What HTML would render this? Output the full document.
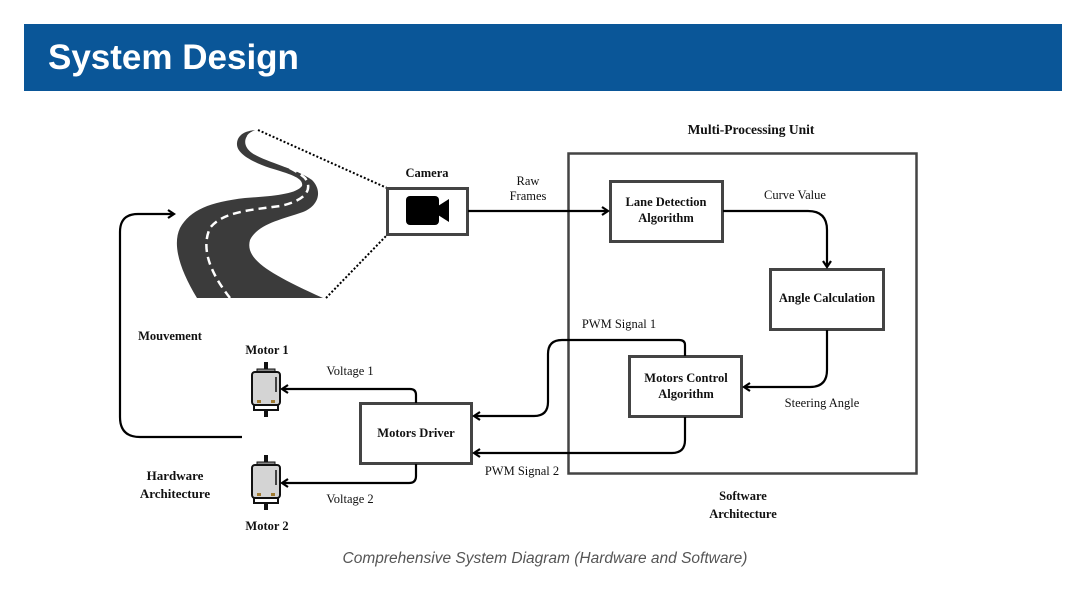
<!DOCTYPE html>
<html><head><meta charset="utf-8"><style>
body{margin:0;background:#fff;width:1091px;height:593px;overflow:hidden}
svg{display:block}
.t{font-family:"Liberation Serif",serif;font-size:12.5px;fill:#111}
.b{font-weight:bold}
</style></head><body>
<svg width="1091" height="593" viewBox="0 0 1091 593" xmlns="http://www.w3.org/2000/svg">
<defs>
<marker id="ah" markerWidth="10" markerHeight="10" refX="8" refY="5" orient="auto" markerUnits="userSpaceOnUse">
<path d="M2,1 L8,5 L2,9" fill="none" stroke="#000" stroke-width="2.2"/>
</marker>
</defs>
<rect x="24" y="24" width="1038" height="67" fill="#0a5698"/>
<text x="48" y="69" font-family="Liberation Sans,sans-serif" font-weight="bold" font-size="35" fill="#fff">System Design</text>

<!-- road -->
<path d="M255,130 C243,135 242,146 252,153 C265,162 295,168 312,180 C322,190 320,205 303,212 C280,220 258,224 250,240 C245,258 265,272 323,298 L197,298 C180,270 172,245 180,228 C190,210 210,202 245,198 C275,196 296,194 302,186 C304,178 290,174 270,168 C250,161 236,153 237,143 C238,134 246,131 255,130 Z" fill="#3b3b3b"/>
<path d="M230,298 C212,275 200,250 210,228 C222,212 250,210 280,206 C300,202 315,192 305,178 C292,166 268,160 252,150 C244,143 246,136 252,133" fill="none" stroke="#fff" stroke-width="2.5" stroke-dasharray="8,5"/>
<line x1="258" y1="130" x2="387" y2="188" stroke="#000" stroke-width="2" stroke-dasharray="2,2"/>
<line x1="326" y1="298" x2="387" y2="235" stroke="#000" stroke-width="2" stroke-dasharray="2,2"/>

<!-- camera -->
<rect x="387.5" y="188.5" width="80" height="46" fill="#fff" stroke="#444" stroke-width="3"/>
<rect x="406" y="196" width="33" height="29" rx="4" fill="#000"/>
<path d="M438,206 L449,199 L449,222 L438,215 Z" fill="#000"/>
<text class="t b" x="427" y="177" text-anchor="middle">Camera</text>

<!-- MPU -->
<rect x="568.5" y="153.5" width="348" height="320" fill="none" stroke="#444" stroke-width="2.5"/>
<text class="t b" x="751" y="134" text-anchor="middle" style="font-size:13.5px">Multi-Processing Unit</text>
<text class="t b" x="743" y="500" text-anchor="middle">Software</text>
<text class="t b" x="743" y="518" text-anchor="middle">Architecture</text>

<rect x="610.5" y="181.5" width="112" height="60" fill="#fff" stroke="#444" stroke-width="3"/>
<text class="t b" x="666" y="206" text-anchor="middle">Lane Detection</text>
<text class="t b" x="666" y="222" text-anchor="middle">Algorithm</text>

<rect x="770.5" y="269.5" width="113" height="60" fill="#fff" stroke="#444" stroke-width="3"/>
<text class="t b" x="827" y="302" text-anchor="middle">Angle Calculation</text>

<rect x="629.5" y="356.5" width="112" height="60" fill="#fff" stroke="#444" stroke-width="3"/>
<text class="t b" x="686" y="382" text-anchor="middle">Motors Control</text>
<text class="t b" x="686" y="398" text-anchor="middle">Algorithm</text>

<rect x="360.5" y="403.5" width="111" height="60" fill="#fff" stroke="#444" stroke-width="3"/>
<text class="t b" x="416" y="437" text-anchor="middle">Motors Driver</text>

<g fill="none" stroke="#000" stroke-width="2.2">
<path d="M468,211 L608,211" marker-end="url(#ah)"/>
<path d="M723,211 L808,211 Q827,211 827,230 L827,267" marker-end="url(#ah)"/>
<path d="M827,330 L827,370 Q827,387 810,387 L744,387" marker-end="url(#ah)"/>
<path d="M685,356 L685,345 Q685,340 679,340 L562,340 Q548,340 548,354 L548,402 Q548,416 534,416 L474,416" marker-end="url(#ah)"/>
<path d="M685,417 L685,440 Q685,453 672,453 L474,453" marker-end="url(#ah)"/>
<path d="M416,403 L416,395 Q416,389 410,389 L282,389" marker-end="url(#ah)"/>
<path d="M416,464 L416,476 Q416,483 409,483 L282,483" marker-end="url(#ah)"/>
<path d="M242,437 L140,437 Q120,437 120,417 L120,232 Q120,214 138,214 L174,214" marker-end="url(#ah)"/>
</g>

<text class="t" x="528" y="185" text-anchor="middle">Raw</text>
<text class="t" x="528" y="200" text-anchor="middle">Frames</text>
<text class="t" x="795" y="199" text-anchor="middle">Curve Value</text>
<text class="t" x="619" y="328" text-anchor="middle">PWM Signal 1</text>
<text class="t" x="822" y="407" text-anchor="middle">Steering Angle</text>
<text class="t" x="522" y="475" text-anchor="middle">PWM Signal 2</text>
<text class="t" x="350" y="375" text-anchor="middle">Voltage 1</text>
<text class="t" x="350" y="503" text-anchor="middle">Voltage 2</text>
<text class="t b" x="267" y="354" text-anchor="middle">Motor 1</text>
<text class="t b" x="267" y="530" text-anchor="middle">Motor 2</text>
<text class="t b" x="170" y="340" text-anchor="middle">Mouvement</text>
<text class="t b" x="175" y="480" text-anchor="middle" style="font-size:13px">Hardware</text>
<text class="t b" x="175" y="498" text-anchor="middle" style="font-size:13px">Architecture</text>

<!-- motors -->
<g id="m1">
<rect x="264" y="362" width="4" height="9" fill="#111"/>
<rect x="257" y="369" width="18" height="4" fill="#888" stroke="#111" stroke-width="1"/>
<rect x="252" y="372" width="28" height="33" rx="3" fill="#d4d4d4" stroke="#111" stroke-width="2"/>
<line x1="276" y1="377" x2="276" y2="392" stroke="#111" stroke-width="1.5"/>
<rect x="257" y="400" width="4" height="3" fill="#a07a30"/>
<rect x="271" y="400" width="4" height="3" fill="#a07a30"/>
<path d="M254,405 L254,410 L278,410 L278,405" fill="none" stroke="#111" stroke-width="2"/>
<rect x="264" y="409" width="4" height="8" fill="#111"/>
</g>
<use href="#m1" transform="translate(0,93)"/>

<text x="545" y="563" text-anchor="middle" font-family="Liberation Sans,sans-serif" font-style="italic" font-size="15.5" fill="#555">Comprehensive System Diagram (Hardware and Software)</text>
</svg>
</body></html>
